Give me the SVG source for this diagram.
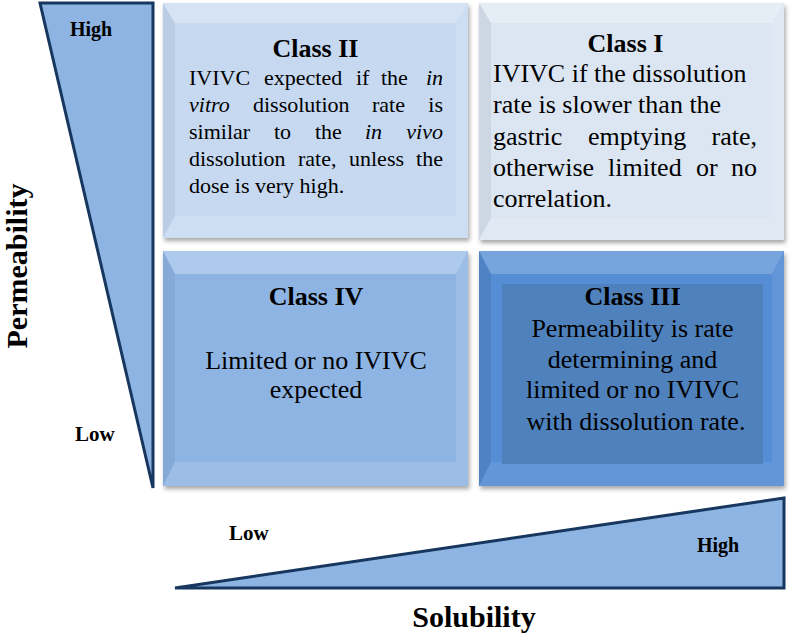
<svg xmlns="http://www.w3.org/2000/svg" width="791" height="634" viewBox="0 0 791 634">
<defs>
<filter id="sh" x="-5%" y="-5%" width="112%" height="115%">
<feDropShadow dx="1.5" dy="3" stdDeviation="2" flood-color="#000" flood-opacity="0.35"/>
</filter>
<style>
.t{font-weight:bold;font-size:26px;text-anchor:middle}
.b22{font-size:22px}
.b26{font-size:26px}
.c{text-anchor:middle}
.e{text-anchor:end}
.i{font-style:italic}
.ax{font-weight:bold;font-size:30px;text-anchor:middle}
.lv{font-weight:bold;font-size:20px}
.tri{fill:#8eb4e3;stroke:#17375e;stroke-width:3;stroke-linejoin:miter}
.bt{fill:#fff;opacity:.28}
.bl{fill:#000;opacity:.05}
.br{fill:#fff;opacity:.12}
.bb{fill:#fff;opacity:.12}
</style>
</defs>
<g font-family="'Liberation Serif', 'Times New Roman', 'DejaVu Serif', serif" fill="#000">

<g id="permeability-axis">
<polygon class="tri" points="40,3 153,3 153,488"/>
<text class="lv" x="70" y="36">High</text>
<text class="lv" x="75" y="441" style="font-size:21px">Low</text>
<text class="ax" transform="translate(27,266) rotate(-90)">Permeability</text>
</g>

<g id="solubility-axis">
<polygon class="tri" points="175,588 784,588 784,498"/>
<text class="lv" x="229" y="540" style="font-size:21px">Low</text>
<text class="lv" x="697" y="552">High</text>
<text class="ax" x="474" y="627">Solubility</text>
</g>

<g id="class-ii">
<g filter="url(#sh)"><rect x="163" y="3" width="305" height="235" fill="#c6d9f1"/></g>
<polygon class="bt" points="163,3 468,3 456,23 175,23"/>
<polygon class="bl" points="163,3 175,23 175,216 163,238"/>
<polygon class="br" points="468,3 468,238 456,216 456,23"/>
<polygon class="bb" points="163,238 175,216 456,216 468,238"/>
<text class="t" x="315.5" y="57">Class II</text>
<text class="b22" y="85"><tspan x="189">IVIVC</tspan><tspan x="264">expected</tspan><tspan x="356">if</tspan><tspan x="381">the</tspan></text>
<text class="b22 i e" x="443" y="85">in</text>
<text class="b22" y="112"><tspan class="i" x="189">vitro</tspan><tspan x="253">dissolution</tspan><tspan x="372">rate</tspan></text>
<text class="b22 e" x="443" y="112">is</text>
<text class="b22" y="139"><tspan x="189">similar</tspan><tspan x="274">to</tspan><tspan x="315">the</tspan><tspan class="i" x="365">in</tspan></text>
<text class="b22 i e" x="443" y="139">vivo</text>
<text class="b22" y="166"><tspan x="189">dissolution</tspan><tspan x="298">rate,</tspan><tspan x="349">unless</tspan></text>
<text class="b22 e" x="443" y="166">the</text>
<text class="b22" x="189" y="193">dose is very high.</text>
</g>

<g id="class-i">
<g filter="url(#sh)"><rect x="479" y="3" width="305" height="237" fill="#dce6f2"/></g>
<polygon class="bt" points="479,3 784,3 772,23 491,23"/>
<polygon points="479,3 491,23 491,218 479,240" fill="#8a96a8" opacity=".18"/>
<polygon class="br" points="784,3 784,240 772,218 772,23"/>
<polygon class="bb" points="479,240 491,218 772,218 784,240"/>
<text class="t" x="625.5" y="52">Class I</text>
<text class="b26" x="493" y="82">IVIVC if the dissolution</text>
<text class="b26" x="493" y="113">rate is slower than the</text>
<text class="b26" y="145"><tspan x="493">gastric</tspan><tspan x="588">emptying</tspan></text>
<text class="b26 e" x="757" y="145">rate,</text>
<text class="b26" y="176"><tspan x="493">otherwise</tspan><tspan x="608">limited</tspan><tspan x="696">or</tspan></text>
<text class="b26 e" x="757" y="176">no</text>
<text class="b26" x="493" y="207">correlation.</text>
</g>

<g id="class-iv">
<g filter="url(#sh)"><rect x="163" y="251" width="305" height="235" fill="#8eb4e3"/></g>
<polygon class="bt" points="163,251 468,251 456,274 175,274"/>
<polygon class="bl" points="163,251 175,274 175,462 163,486"/>
<polygon class="br" points="468,251 468,486 456,462 456,274"/>
<polygon class="bb" points="163,486 175,462 456,462 468,486"/>
<text class="t" x="316" y="305">Class IV</text>
<text class="b26 c" x="316" y="369">Limited or no IVIVC</text>
<text class="b26 c" x="316" y="398">expected</text>
</g>

<g id="class-iii">
<g filter="url(#sh)"><rect x="479" y="251" width="305" height="235" fill="#558ed5"/></g>
<polygon class="bt" points="479,251 784,251 772,274 491,274" style="opacity:.2"/>
<polygon class="bl" points="479,251 491,274 491,462 479,486" style="opacity:.08"/>
<polygon class="br" points="784,251 784,486 772,462 772,274" style="opacity:.08"/>
<polygon class="bb" points="479,486 491,462 772,462 784,486" style="opacity:.08"/>
<rect x="502" y="284" width="261" height="180" fill="#4f81bd"/>
<text class="t" x="632.5" y="305">Class III</text>
<text class="b26 c" x="632.5" y="337">Permeability is rate</text>
<text class="b26 c" x="632.5" y="368">determining and</text>
<text class="b26 c" x="632.5" y="398">limited or no IVIVC</text>
<text class="b26 c" x="636" y="430">with dissolution rate.</text>
</g>

<g id="connectors"/>
</g>
</svg>
